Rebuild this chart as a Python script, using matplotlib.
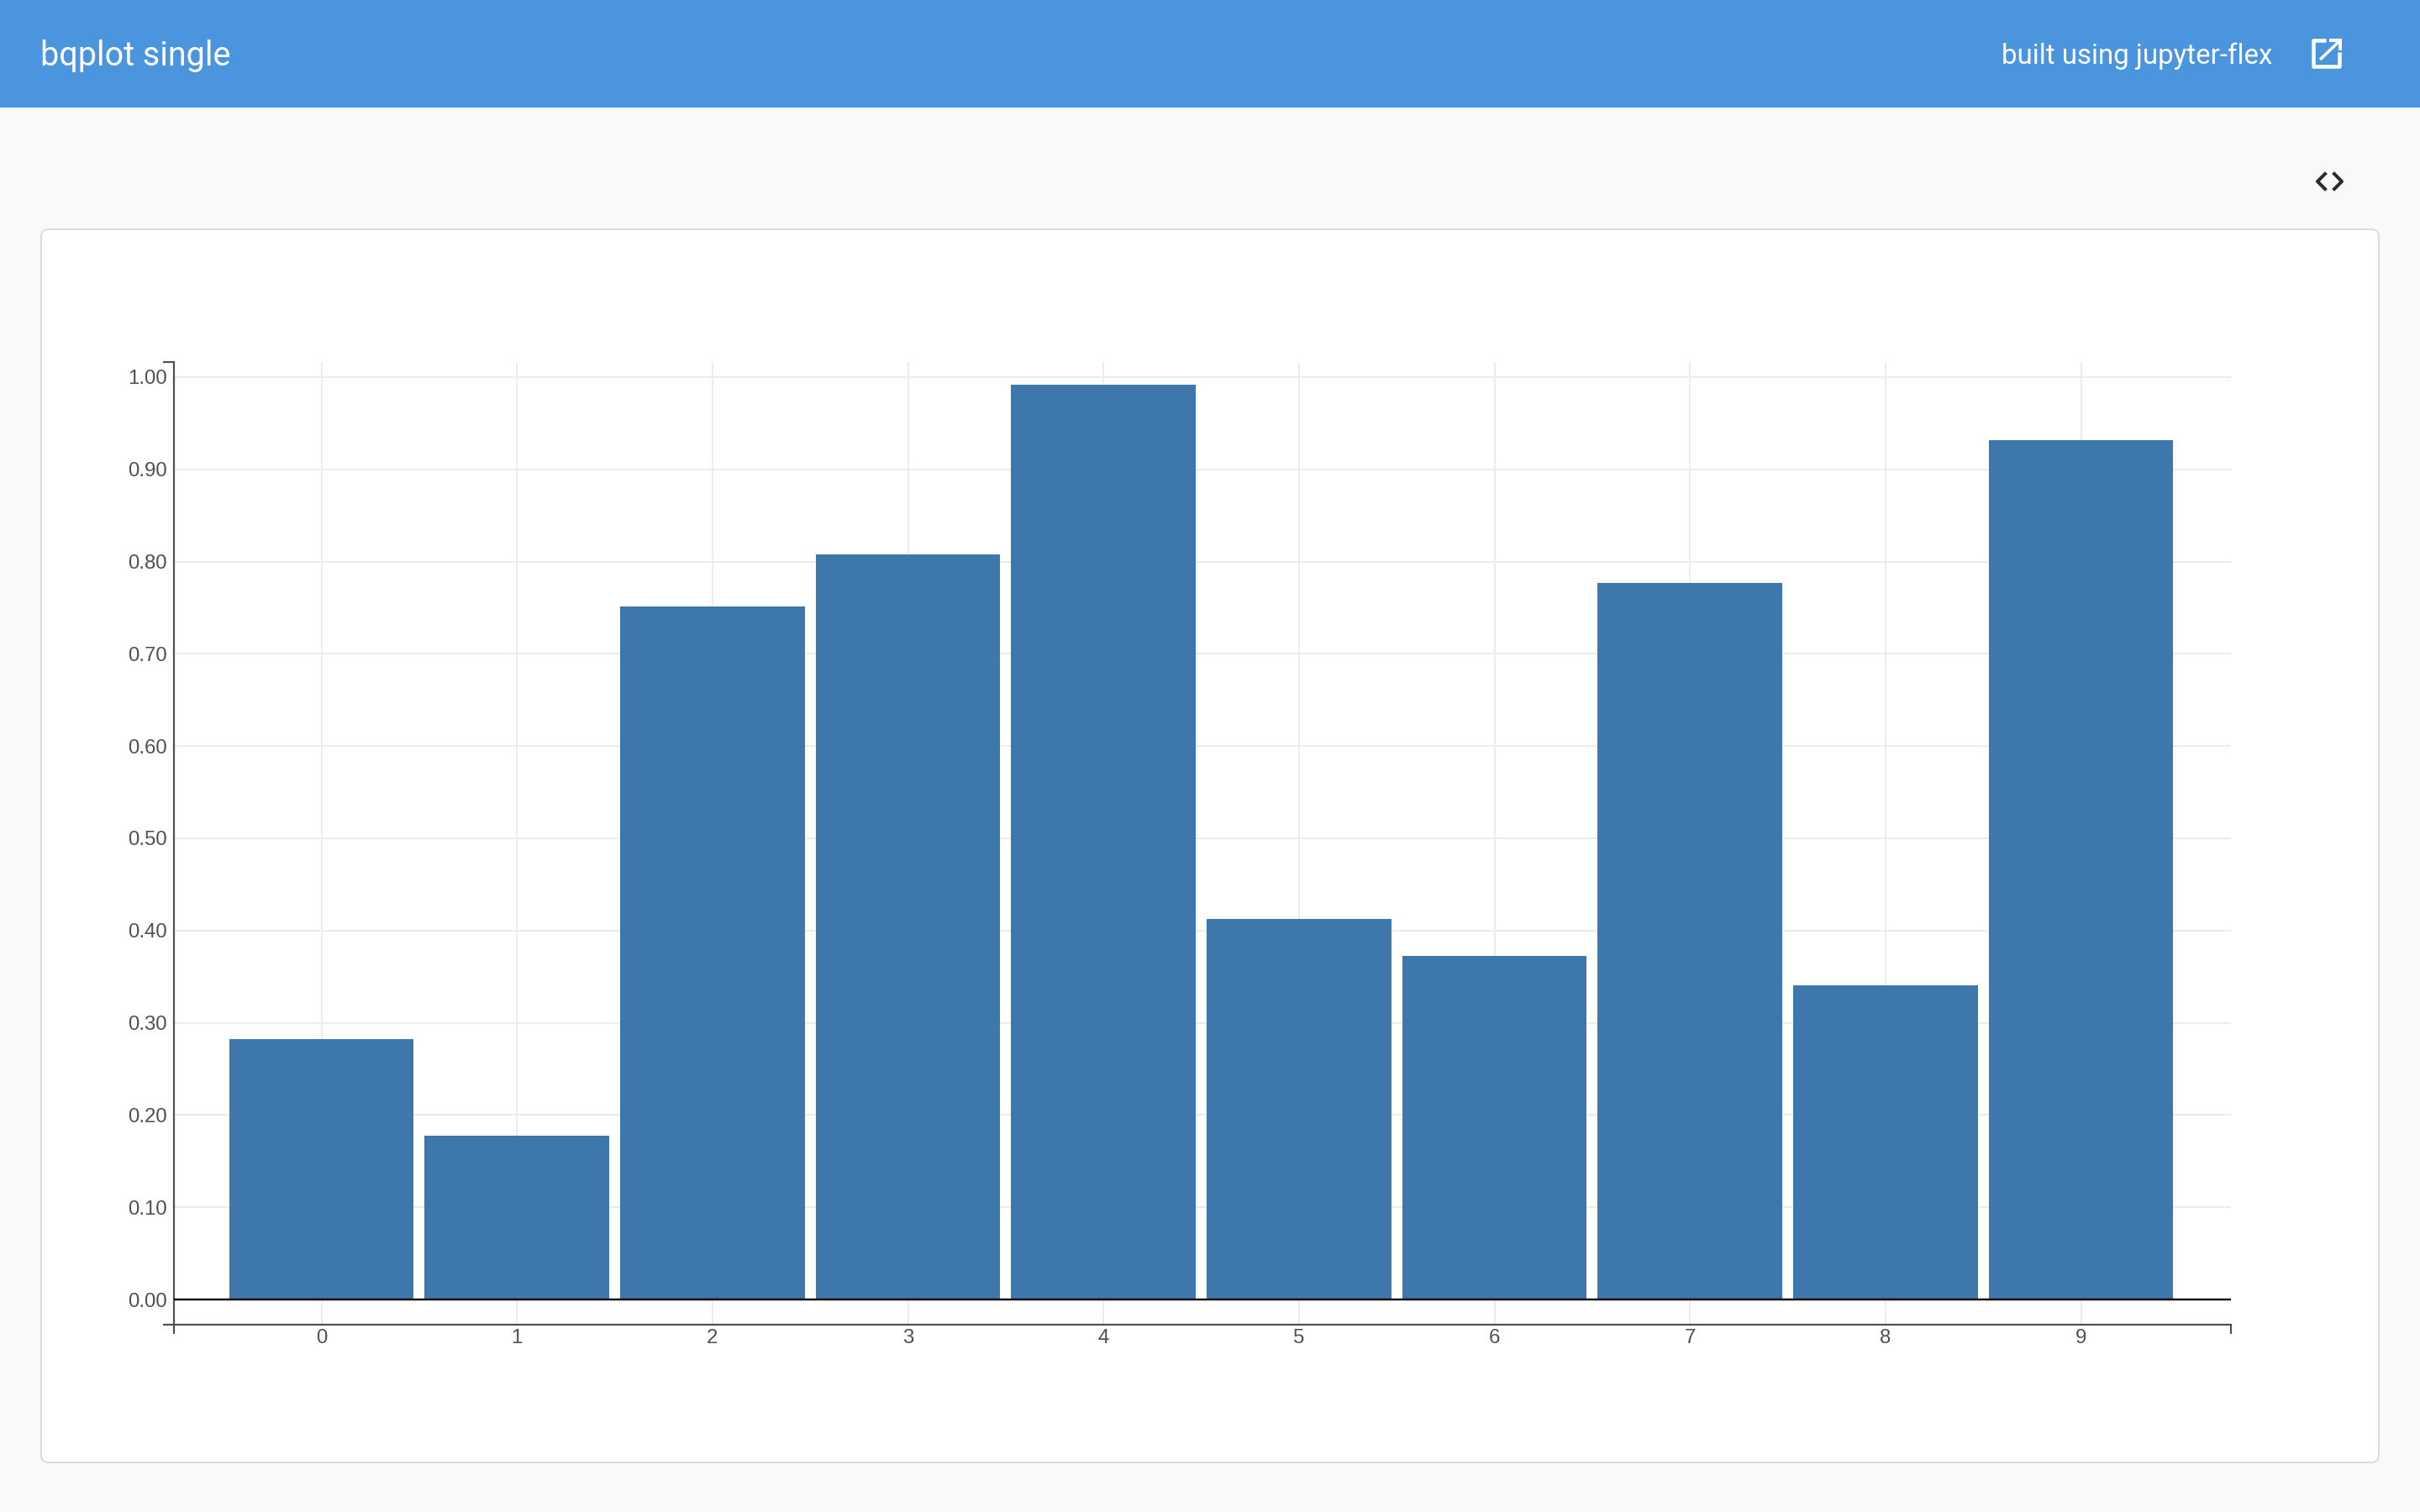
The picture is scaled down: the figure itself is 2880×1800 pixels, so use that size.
import matplotlib
matplotlib.use("Agg")
import matplotlib.pyplot as plt
from matplotlib.patches import FancyBboxPatch, Rectangle

W, H = 2880, 1800
PX = 0.72  # px to pt at dpi 100

# values
categories = [0, 1, 2, 3, 4, 5, 6, 7, 8, 9]
values = [0.282, 0.1773, 0.751, 0.8075, 0.9915, 0.4129, 0.3722, 0.7769, 0.3409, 0.9314]
y_ticks = [0.0, 0.1, 0.2, 0.3, 0.4, 0.5, 0.6, 0.7, 0.8, 0.9, 1.0]

title = "bqplot single"
credit = "built using jupyter-flex"

bar_color = "#3e77ac"
header_color = "#4a95dd"
page_color = "#f7f9fb"
axis_color = "#505050"
grid_color = "#ececec"

fig = plt.figure(figsize=(W / 100, H / 100), dpi=100, facecolor=page_color)

# page furniture, in pixel coordinates
bg = fig.add_axes([0, 0, 1, 1], zorder=0)
bg.set_xlim(0, W)
bg.set_ylim(H, 0)
bg.axis("off")
bg.add_patch(Rectangle((0, 0), W, 128, facecolor=header_color, edgecolor="none"))
bg.add_patch(FancyBboxPatch((49, 273), 2782, 1468, boxstyle="round,pad=0,rounding_size=9",
                            facecolor="white", edgecolor="#dcdcdc", linewidth=2 * PX))
bg.text(48, 78, title, color="white", fontsize=39.5 * PX, family="Roboto", va="baseline", ha="left")
bg.text(2704, 76, credit, color="white", fontsize=33 * PX, family="Roboto", va="baseline", ha="right")

# open-in-new icon
bg.plot([2768, 2753, 2753, 2784, 2784], [48, 48, 79, 79, 62], color="white", lw=4.5 * PX,
        solid_joinstyle="round", solid_capstyle="butt")
bg.plot([2761, 2784], [71, 49], color="white", lw=3.5 * PX, solid_capstyle="butt")
bg.plot([2772, 2785, 2785], [48, 48, 60], color="white", lw=4 * PX,
        solid_joinstyle="miter", solid_capstyle="butt")

# code icon
bg.plot([2767, 2758, 2767], [207, 216, 225], color="#2b2b2b", lw=4 * PX)
bg.plot([2778, 2787, 2778], [207, 216, 225], color="#2b2b2b", lw=4 * PX)

# chart axes
left, right, top, bottom = 207, 2655, 431, 1577
x0_px, x_unit = 382.5, 232.67
y0_px, y_unit = 1547, 1098

ax = fig.add_axes([left / W, 1 - bottom / H, (right - left) / W, (bottom - top) / H], zorder=1)
ax.patch.set_alpha(0)
ax.set_xlim((left - x0_px) / x_unit, (right - x0_px) / x_unit)
ax.set_ylim((y0_px - bottom) / y_unit, (y0_px - top) / y_unit)

ax.bar(categories, values, width=0.945, color=bar_color, zorder=2)
ax.axhline(0, color="black", lw=2.4 * PX, zorder=3)

ax.set_xticks(categories)
ax.set_yticks(y_ticks)
ax.set_yticklabels(["%.2f" % v for v in y_ticks])
ax.grid(True, color=grid_color, lw=2 * PX, zorder=0)
ax.set_axisbelow(True)

for side in ["top", "right"]:
    ax.spines[side].set_visible(False)
for side in ["left", "bottom"]:
    ax.spines[side].set_color(axis_color)
    ax.spines[side].set_linewidth(2.2 * PX)

ax.tick_params(axis="x", length=0, pad=5 * PX, labelsize=24 * PX, labelcolor=axis_color)
ax.tick_params(axis="y", length=0, pad=8 * PX, labelsize=24 * PX, labelcolor=axis_color)
for lab in ax.get_xticklabels() + ax.get_yticklabels():
    lab.set_family("Liberation Sans")

# end ticks of the axes
ax.set_xticks(list(ax.get_xlim()), minor=True)
ax.set_yticks(list(ax.get_ylim()), minor=True)
ax.tick_params(axis="x", which="minor", length=11 * PX, width=2.2 * PX, color=axis_color)
ax.tick_params(axis="y", which="minor", length=13 * PX, width=2.2 * PX, color=axis_color)

fig.savefig("out.png", dpi=100, facecolor=page_color)
